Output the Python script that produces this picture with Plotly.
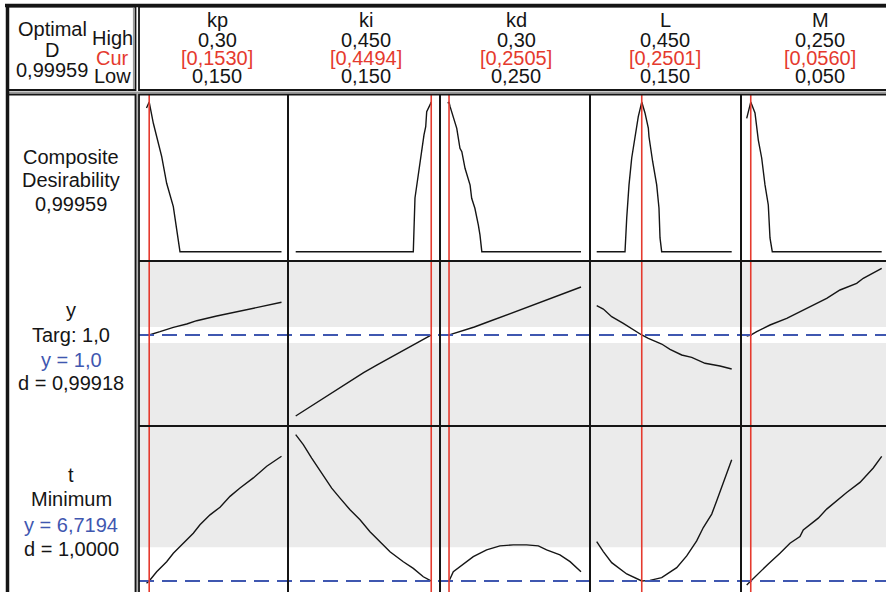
import plotly.graph_objects as go

W, H = 886, 592

# ---------------- data ----------------
factors = ["kp", "ki", "kd", "L", "M"]
low_vals = [0.150, 0.150, 0.250, 0.150, 0.050]
high_vals = [0.30, 0.450, 0.30, 0.450, 0.250]
cur_vals = [0.1530, 0.4494, 0.2505, 0.2501, 0.0560]
high_labels = ["0,30", "0,450", "0,30", "0,450", "0,250"]
cur_labels = ["[0,1530]", "[0,4494]", "[0,2505]", "[0,2501]", "[0,0560]"]
low_labels = ["0,150", "0,150", "0,250", "0,150", "0,050"]

optimal_D = "0,99959"
y_target = 1.0
y_lower = 0.96
y_upper = 1.04
t_opt = 6.7194
t_upper = 8.40

# composite desirability
kp_d_x = [0.150, 0.153, 0.1576, 0.1669, 0.1724, 0.1798, 0.1872, 0.300]
kp_d = [0.960, 0.9996, 0.858, 0.635, 0.457, 0.301, 0.0, 0.0]
ki_d_x = [0.150, 0.4098, 0.4135, 0.4173, 0.4246, 0.4334, 0.4372, 0.4394, 0.4482, 0.4494]
ki_d = [0.0, 0.0, 0.359, 0.446, 0.601, 0.780, 0.835, 0.935, 0.991, 0.9996]
kd_d_x = [0.2500, 0.2505, 0.2509, 0.2521, 0.2534, 0.2546, 0.2553, 0.2565, 0.2584, 0.2590,
          0.2602, 0.2615, 0.2621, 0.2628, 0.3000]
kd_d = [0.991, 0.9996, 0.969, 0.891, 0.824, 0.691, 0.668, 0.557, 0.445, 0.357,
        0.290, 0.178, 0.112, 0.0, 0.0]
L_d_x = [0.150, 0.2129, 0.2167, 0.2218, 0.2278, 0.2351, 0.2373, 0.2424, 0.2501, 0.2573,
         0.2647, 0.2662, 0.2744, 0.2833, 0.2884, 0.2907, 0.2944, 0.450]
L_d = [0.0, 0.0, 0.225, 0.446, 0.626, 0.760, 0.826, 0.902, 0.9996, 0.927,
       0.826, 0.768, 0.601, 0.446, 0.292, 0.092, 0.0, 0.0]
M_d_x = [0.050, 0.056, 0.0623, 0.0648, 0.0672, 0.0722, 0.0771, 0.0820, 0.0845, 0.0879, 0.250]
M_d = [0.891, 0.9996, 0.927, 0.826, 0.746, 0.626, 0.446, 0.312, 0.092, 0.0, 0.0]

# response y
kp_y_x = [0.150, 0.153, 0.165, 0.1798, 0.1947, 0.2058, 0.228, 0.2539, 0.2798, 0.300]
kp_y = [0.998, 1.000, 1.0165, 1.0385, 1.055, 1.0715, 1.095, 1.120, 1.145, 1.1635]
ki_y_x = [0.15, 0.18, 0.21, 0.24, 0.27, 0.30, 0.33, 0.36, 0.39, 0.42, 0.4494, 0.45]
ki_y = [0.595, 0.638, 0.684, 0.727, 0.771, 0.812, 0.851, 0.889, 0.926, 0.963, 1.000, 1.001]
kd_y_x = [0.250, 0.2505, 0.255, 0.260, 0.265, 0.270, 0.275, 0.280, 0.285, 0.290, 0.295, 0.300]
kd_y = [0.998, 1.000, 1.020, 1.040, 1.065, 1.090, 1.115, 1.140, 1.165, 1.190, 1.215, 1.240]
L_y_x = [0.150, 0.1647, 0.1833, 0.2091, 0.2501, 0.2647, 0.2944, 0.3129, 0.3389, 0.3611,
         0.3907, 0.424, 0.450]
L_y = [1.1465, 1.130, 1.0915, 1.0585, 1.000, 0.9835, 0.955, 0.9285, 0.900, 0.8885,
       0.8585, 0.845, 0.830]
M_y_x = [0.050, 0.056, 0.0648, 0.0845, 0.1093, 0.1290, 0.1486, 0.1685, 0.1882, 0.2129,
         0.2227, 0.250]
M_y = [0.995, 1.000, 1.0165, 1.050, 1.0835, 1.1165, 1.150, 1.1835, 1.225, 1.2585,
       1.2835, 1.3335]

# response t
kp_t_x = [0.150, 0.153, 0.1613, 0.1724, 0.1798, 0.1891, 0.2020, 0.2094, 0.2206, 0.2317,
          0.2428, 0.2539, 0.2687, 0.2836, 0.300]
kp_t = [6.61, 6.7194, 7.18, 7.68, 8.10, 8.52, 9.10, 9.52, 10.02, 10.40,
        10.94, 11.36, 11.86, 12.44, 12.94]
ki_t_x = [0.150, 0.1668, 0.1853, 0.2074, 0.2295, 0.2479, 0.2700, 0.2921, 0.3141, 0.3362,
          0.3583, 0.3877, 0.4098, 0.4319, 0.4494, 0.450]
ki_t = [14.02, 13.52, 12.85, 12.10, 11.35, 10.85, 10.27, 9.77, 9.18, 8.68,
        8.18, 7.68, 7.35, 6.93, 6.7194, 6.715]
kd_t_x = [0.2500, 0.2505, 0.2521, 0.2553, 0.2596, 0.2646, 0.2696, 0.2746, 0.2796, 0.2840,
          0.2871, 0.2921, 0.2959, 0.3000]
kd_t = [6.685, 6.7194, 7.185, 7.52, 7.935, 8.27, 8.47, 8.52, 8.52, 8.47,
        8.27, 8.02, 7.685, 7.185]
L_t_x = [0.150, 0.1647, 0.1833, 0.2167, 0.2501, 0.2684, 0.2944, 0.3278, 0.350, 0.3722,
         0.3869, 0.4056, 0.4167, 0.4313, 0.450]
L_t = [8.685, 8.185, 7.634, 7.07, 6.7194, 6.75, 6.885, 7.385, 7.97, 8.72,
       9.385, 10.055, 10.72, 11.635, 12.77]
M_t_x = [0.050, 0.056, 0.0820, 0.0993, 0.1141, 0.1289, 0.1338, 0.1560, 0.1685, 0.1981,
         0.2178, 0.2375, 0.250]
M_t = [6.52, 6.7194, 7.57, 8.10, 8.605, 8.935, 9.27, 9.855, 10.305, 11.135,
       11.635, 12.355, 12.935]

row_labels = [
    ["Composite", "Desirability", optimal_D],
    ["y", "Targ: 1,0", "y = 1,0", "d = 0,99918"],
    ["t", "Minimum", "y = 6,7194", "d = 1,0000"],
]

curves_d = [(kp_d_x, kp_d), (ki_d_x, ki_d), (kd_d_x, kd_d), (L_d_x, L_d), (M_d_x, M_d)]
curves_y = [(kp_y_x, kp_y), (ki_y_x, ki_y), (kd_y_x, kd_y), (L_y_x, L_y), (M_y_x, M_y)]
curves_t = [(kp_t_x, kp_t), (ki_t_x, ki_t), (kd_t_x, kd_t), (L_t_x, L_t), (M_t_x, M_t)]

# ---------------- layout geometry (pixels) ----------------
col_px = [(139, 288), (288, 440), (440, 590), (590, 741), (741, 886)]
low_px = [146.5, 295.7, 447.7, 596.7, 746.7]
high_px = [281.5, 431.5, 581.0, 731.7, 881.7]
row_px = [(94.5, 261), (261, 426), (426, 592)]
# reference pixel positions for vertical scales
row_ref = [((0.0, 251.7), (1.0, 102.0)),
           ((y_upper, 327.0), (y_lower, 343.0)),
           ((t_opt, 581.0), (t_upper, 547.3))]

BLACK = "#151515"
RED = "#E53A2E"
BLUE = "#3F57B0"
GRAY = "#EBEBEB"
FONT = "Liberation Sans, Arial, Helvetica, sans-serif"


def lin(v1, p1, v2, p2, p):
    return v1 + (p - p1) * (v2 - v1) / (p2 - p1)


def X(p):
    return p / W


def Y(p):
    return 1 - p / H


fig = go.Figure()
layout = dict(width=W, height=H, margin=dict(l=0, r=0, t=0, b=0),
              paper_bgcolor="white", plot_bgcolor="rgba(0,0,0,0)",
              showlegend=False)

xranges = []
for c in range(5):
    a, b = col_px[c]
    r0 = lin(low_vals[c], low_px[c], high_vals[c], high_px[c], a)
    r1 = lin(low_vals[c], low_px[c], high_vals[c], high_px[c], b)
    xranges.append((r0, r1))
    layout[f"xaxis{c + 1 if c else ''}"] = dict(domain=[X(a), X(b)], range=[r0, r1],
                                                 visible=False, fixedrange=True,
                                                 anchor="y")
yranges = []
for r in range(3):
    a, b = row_px[r]
    (v1, p1), (v2, p2) = row_ref[r]
    bot = lin(v1, p1, v2, p2, b)
    top = lin(v1, p1, v2, p2, a)
    yranges.append((bot, top))
    layout[f"yaxis{r + 1 if r else ''}"] = dict(domain=[max(0, Y(b)), Y(a)], range=[bot, top],
                                                 visible=False, fixedrange=True,
                                                 anchor="x")

shapes = []
# shading of responses (zero-desirability regions)
shapes.append(dict(type="rect", xref="paper", yref="y2", x0=X(139), x1=1,
                   y0=y_upper, y1=yranges[1][1], fillcolor=GRAY, line_width=0, layer="below"))
shapes.append(dict(type="rect", xref="paper", yref="y2", x0=X(139), x1=1,
                   y0=yranges[1][0], y1=y_lower, fillcolor=GRAY, line_width=0, layer="below"))
shapes.append(dict(type="rect", xref="paper", yref="y3", x0=X(139), x1=1,
                   y0=t_upper, y1=yranges[2][1], fillcolor=GRAY, line_width=0, layer="below"))

# curves
for rowi, curves in enumerate([curves_d, curves_y, curves_t]):
    for c, (xs, ys) in enumerate(curves):
        fig.add_trace(go.Scatter(x=xs, y=ys, mode="lines",
                                 line=dict(color=BLACK, width=1.4),
                                 xaxis=f"x{c + 1 if c else ''}",
                                 yaxis=f"y{rowi + 1 if rowi else ''}",
                                 hoverinfo="skip"))

# blue dashed lines at the optimal responses
shapes.append(dict(type="line", xref="paper", yref="y2", x0=X(139), x1=1,
                   y0=y_target, y1=y_target, line=dict(color=BLUE, width=2, dash="15px,8px")))
shapes.append(dict(type="line", xref="paper", yref="y3", x0=X(139), x1=1,
                   y0=t_opt, y1=t_opt, line=dict(color=BLUE, width=2, dash="15px,8px")))

# red current-setting lines
for c in range(5):
    shapes.append(dict(type="line", xref=f"x{c + 1 if c else ''}", yref="paper",
                       x0=cur_vals[c], x1=cur_vals[c], y0=0, y1=Y(94.5),
                       line=dict(color=RED, width=1.6)))

# frames
def line(x0, y0, x1, y1, color=BLACK, width=2):
    shapes.append(dict(type="line", xref="paper", yref="paper",
                       x0=X(x0), y0=Y(y0), x1=X(x1), y1=Y(y1),
                       line=dict(color=color, width=width)))


# gray bevel lines
line(137, 92, 137, 600, "#9A9A9A", 1.5)
line(8, 92.3, 886, 92.3, "#9A9A9A", 1.5)
line(133.5, 8, 133.5, 90, "#9A9A9A", 1.2)
# panel dividers
for a, b in col_px[1:]:
    line(a, 94.5, a, 600, BLACK, 2)
for a, b in row_px[1:]:
    line(139, a, 886, a, BLACK, 2)
# boxes
for (x0, y0, x1, y1) in [(8, 6.5, 135.5, 90), (139, 6.5, 900, 90),
                         (8, 94.5, 135.5, 600), (139, 94.5, 900, 600)]:
    shapes.append(dict(type="rect", xref="paper", yref="paper",
                       x0=X(x0), y0=Y(y1), x1=X(x1), y1=Y(y0),
                       line=dict(color=BLACK, width=1.8), fillcolor="rgba(0,0,0,0)"))
# thick outer frame
line(5, 5.5, 886, 5.5, BLACK, 3.5)
line(7.5, 5, 7.5, 592, BLACK, 3.5)

layout["shapes"] = shapes

ann = []


def text(x, y, s, color=BLACK):
    ann.append(dict(x=X(x), y=Y(y), xref="paper", yref="paper", text=s, showarrow=False,
                    xanchor="center", yanchor="middle",
                    font=dict(family=FONT, size=20, color=color)))


# header left
text(52, 29.5, "Optimal")
text(52, 49.5, "D")
text(52, 70, optimal_D)
text(112, 37.5, "High")
text(112, 57.5, "Cur", RED)
text(112, 76, "Low")

# header columns
head_cx = [217, 366, 516, 665, 820]
for c in range(5):
    text(head_cx[c], 20, factors[c])
    text(head_cx[c], 40, high_labels[c])
    text(head_cx[c], 57.5, cur_labels[c], RED)
    text(head_cx[c], 76, low_labels[c])

# row labels
lab_y = [[156.7, 180.3, 203.7], [310, 334.5, 360, 383.3], [474.5, 498.7, 525, 548.8]]
lab_col = [[BLACK, BLACK, BLACK], [BLACK, BLACK, BLUE, BLACK], [BLACK, BLACK, BLUE, BLACK]]
for r in range(3):
    for i, s in enumerate(row_labels[r]):
        text(71, lab_y[r][i], s, lab_col[r][i])

layout["annotations"] = ann
fig.update_layout(**layout)
fig.write_html("out.html")
